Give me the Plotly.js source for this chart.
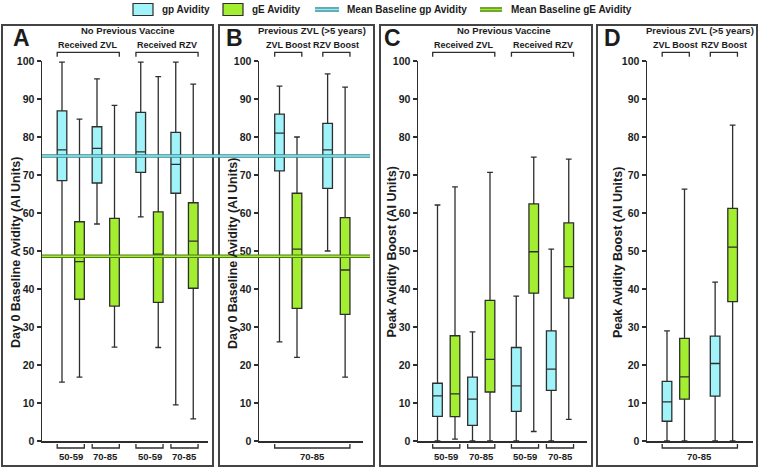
<!DOCTYPE html>
<html><head><meta charset="utf-8">
<script src="https://cdn.plot.ly/plotly-3.0.1.min.js"></script>
<style>html,body{margin:0;padding:0;background:#fff}#chart{width:760px;height:468px}</style>
</head><body><div id="chart"></div>
<script>
// ---------------- DATA ----------------
const seriesNames = ['gp Avidity', 'gE Avidity'];
const meanNames = ['Mean Baseline gp Avidity', 'Mean Baseline gE Avidity'];
const meanBaseline = [75.0, 48.6];               // gp, gE day-0 means

const yTitleBaseline = 'Day 0 Baseline Avidity (AI Units)';
const yTitleBoost = 'Peak Avidity Boost (AI Units)';
const titleNoPrev = 'No Previous Vaccine';
const titlePrevZVL = 'Previous ZVL (>5 years)';
const groupsNoPrev = ['Received ZVL', 'Received RZV'];
const groupsPrev = ['ZVL Boost', 'RZV Boost'];
const agesNoPrev = ['50-59', '70-85'];
const agePrev = '70-85';

// Panel A: order ZVL 50-59, ZVL 70-85, RZV 50-59, RZV 70-85
const aGpMin = [15.5, 57.1, 59.0, 9.5];
const aGpQ1  = [68.5, 67.9, 70.7, 65.2];
const aGpMed = [76.6, 77.0, 76.1, 72.8];
const aGpQ3  = [86.9, 82.7, 86.5, 81.2];
const aGpMax = [99.7, 95.3, 99.7, 99.7];
const aGeMin = [16.8, 24.7, 24.6, 5.8];
const aGeQ1  = [37.3, 35.5, 36.5, 40.2];
const aGeMed = [47.2, 48.8, 49.2, 52.6];
const aGeQ3  = [57.7, 58.6, 60.3, 62.7];
const aGeMax = [84.7, 88.3, 95.9, 93.9];

// Panel B: order ZVL Boost, RZV Boost (70-85)
const bGpMin = [26.1, 50.0];
const bGpQ1  = [71.1, 66.5];
const bGpMed = [81.0, 76.6];
const bGpQ3  = [86.0, 83.6];
const bGpMax = [93.4, 96.6];
const bGeMin = [22.0, 16.8];
const bGeQ1  = [34.9, 33.3];
const bGeMed = [50.5, 45.0];
const bGeQ3  = [65.2, 58.8];
const bGeMax = [80.0, 93.1];

// Panel C: order ZVL 50-59, ZVL 70-85, RZV 50-59, RZV 70-85
const cGpMin = [0, 0, 0, 0];
const cGpQ1  = [6.5, 4.1, 7.8, 13.3];
const cGpMed = [11.9, 11.0, 14.5, 18.9];
const cGpQ3  = [15.2, 16.8, 24.6, 29.0];
const cGpMax = [62.1, 28.7, 38.1, 50.5];
const cGeMin = [0.5, 0, 2.5, 5.7];
const cGeQ1  = [6.4, 12.9, 38.9, 37.6];
const cGeMed = [12.4, 21.5, 49.8, 45.9];
const cGeQ3  = [27.7, 37.0, 62.4, 57.4];
const cGeMax = [66.9, 70.7, 74.7, 74.2];

// Panel D: order ZVL Boost, RZV Boost (70-85)
const dGpMin = [0, 0];
const dGpQ1  = [5.2, 11.8];
const dGpMed = [10.3, 20.4];
const dGpQ3  = [15.7, 27.6];
const dGpMax = [29.0, 41.8];
const dGeMin = [0, 0];
const dGeQ1  = [11.0, 36.7];
const dGeMed = [16.9, 51.0];
const dGeQ3  = [27.0, 61.2];
const dGeMax = [66.3, 83.1];

// ---------------- STYLE / LAYOUT ----------------
const W = 760, H = 468;
const px = v => v / W, py = v => 1 - v / H;
const FONT = 'Liberation Sans, Arial, Helvetica, sans-serif';
const INK = '#1c1c1c';
const AXC = '#2e2e2e';
const FILLS = ['#9ff3f9', '#a3ee30'];
const MEAN_DARK = ['#3a8a90', '#4f7d12'];
const MEAN_LIGHT = ['#93eef3', '#a3ee30'];
const PPU = 17.5;      // px per category unit
const BOXW = 0.55;
const yTopPx = 61, yBotPx = 441;

function slots(nGroups, perGroup, gap) {
  const gp = [], gE = [];
  for (let g = 0; g < nGroups; g++)
    for (let a = 0; a < perGroup; a++) {
      const base = g * (perGroup * 2 + gap) + a * 2;
      gp.push(base); gE.push(base + 1);
    }
  return { gp, gE };
}

const panels = [
  { letter: 'A', xa: 'x', ya: 'y', axPx: [42, 208], firstPx: 62, box: [2, 213], letterX: 21, yTitleX: 15.5,
    title: titleNoPrev, groups: groupsNoPrev, per: 2, gap: 0.5, yTitle: yTitleBaseline,
    gp: [aGpMin, aGpQ1, aGpMed, aGpQ3, aGpMax], gE: [aGeMin, aGeQ1, aGeMed, aGeQ3, aGeMax] },
  { letter: 'B', xa: 'x2', ya: 'y2', axPx: [259, 363], firstPx: 279.5, box: [219, 374], letterX: 234, yTitleX: 232.5,
    title: titlePrevZVL, groups: groupsPrev, per: 1, gap: 0.75, yTitle: yTitleBaseline,
    gp: [bGpMin, bGpQ1, bGpMed, bGpQ3, bGpMax], gE: [bGeMin, bGeQ1, bGeMed, bGeQ3, bGeMax] },
  { letter: 'C', xa: 'x3', ya: 'y3', axPx: [418, 587], firstPx: 437.5, box: [380, 592], letterX: 392, yTitleX: 391,
    title: titleNoPrev, groups: groupsNoPrev, per: 2, gap: 0.5, yTitle: yTitleBoost,
    gp: [cGpMin, cGpQ1, cGpMed, cGpQ3, cGpMax], gE: [cGeMin, cGeQ1, cGeMed, cGeQ3, cGeMax] },
  { letter: 'D', xa: 'x4', ya: 'y4', axPx: [647, 753], firstPx: 667, box: [597, 757], letterX: 612, yTitleX: 617.5,
    title: titlePrevZVL, groups: groupsPrev, per: 1, gap: 0.75, yTitle: yTitleBoost,
    gp: [dGpMin, dGpQ1, dGpMed, dGpQ3, dGpMax], gE: [dGeMin, dGeQ1, dGeMed, dGeQ3, dGeMax] }
];

const traces = [], shapes = [], annotations = [];
const layout = {
  width: W, height: H, margin: { l: 0, r: 0, t: 0, b: 0 },
  paper_bgcolor: '#ffffff', plot_bgcolor: 'rgba(0,0,0,0)',
  showlegend: false, font: { family: FONT, color: INK, weight: 'bold' },
  hovermode: false
};

const txt = (text, x, y, size, xref, extra) => Object.assign({
  text, x, y, xref: xref || 'paper', yref: 'paper', showarrow: false,
  xanchor: 'center', yanchor: 'middle',
  font: { family: FONT, size, color: INK, weight: 'bold' }
}, extra || {});

panels.forEach((p, i) => {
  const sfx = i === 0 ? '' : String(i + 1);
  const off = (p.firstPx - p.axPx[0]) / PPU;
  const span = (p.axPx[1] - p.axPx[0]) / PPU;
  const pos = slots(2, p.per, p.gap);

  layout['xaxis' + sfx] = {
    domain: [px(p.axPx[0]), px(p.axPx[1])], range: [-off, span - off],
    anchor: p.ya, showline: true, linecolor: AXC, linewidth: 1.5,
    showticklabels: false, ticks: '', showgrid: false, zeroline: false, fixedrange: true
  };
  layout['yaxis' + sfx] = {
    domain: [py(yBotPx), py(yTopPx)], range: [0, 100], dtick: 10, tick0: 0,
    anchor: p.xa, showline: true, linecolor: AXC, linewidth: 1.5,
    ticks: 'outside', ticklen: 4, tickwidth: 1.5, tickcolor: AXC,
    tickfont: { family: FONT, size: 10.5, color: INK, weight: 'bold' },
    showgrid: false, zeroline: false, fixedrange: true, automargin: false
  };

  ['gp', 'gE'].forEach((k, j) => {
    const s = p[k];
    traces.push({
      type: 'box', name: seriesNames[j], xaxis: p.xa, yaxis: p.ya,
      x: pos[k], lowerfence: s[0], q1: s[1], median: s[2], q3: s[3], upperfence: s[4],
      width: BOXW, whiskerwidth: 0.6, fillcolor: FILLS[j],
      line: { color: AXC, width: 1.3 }, boxpoints: false, hoverinfo: 'skip', showlegend: false
    });
  });

  // panel frame
  shapes.push({ type: 'rect', xref: 'paper', yref: 'paper', x0: px(p.box[0]), x1: px(p.box[1]),
    y0: py(466), y1: py(25), line: { color: '#444', width: 2 }, fillcolor: 'rgba(0,0,0,0)', layer: 'below' });

  // letter
  annotations.push(txt(p.letter, px(p.letterX), py(37.5), 23));

  // y-axis title (rotated), placed like the reference
  annotations.push(txt(p.yTitle, px(p.yTitleX), py((yTopPx + yBotPx) / 2 + 1.5), 12.5, 'paper', { textangle: -90 }));

  // panel title
  const all = pos.gp.concat(pos.gE);
  const mid = (Math.min(...all) + Math.max(...all)) / 2;
  annotations.push(txt(p.title, mid, py(31), 9.5, p.xa));

  // top group brackets + labels
  const nPer = p.per * 2;
  p.groups.forEach((g, gi) => {
    const lo = gi * (nPer + p.gap) - BOXW / 2, hi = gi * (nPer + p.gap) + nPer - 1 + BOXW / 2;
    shapes.push({ type: 'path', xref: p.xa, yref: 'paper',
      path: `M${lo},${py(56.7)} L${lo},${py(52.3)} L${hi},${py(52.3)} L${hi},${py(56.7)}`,
      line: { color: AXC, width: 1.3 } });
    annotations.push(txt(g, (lo + hi) / 2, py(45.5), 9, p.xa));
  });

  // bottom age brackets + labels
  const brackets = [];
  if (p.per === 2) {
    p.groups.forEach((g, gi) => agesNoPrev.forEach((a, ai) => {
      const s0 = gi * (nPer + p.gap) + ai * 2;
      brackets.push([s0 - BOXW / 2, s0 + 1 + BOXW / 2, a]);
    }));
  } else {
    brackets.push([Math.min(...all) - BOXW / 2, Math.max(...all) + BOXW / 2, agePrev]);
  }
  brackets.forEach(([lo, hi, lab]) => {
    shapes.push({ type: 'path', xref: p.xa, yref: 'paper',
      path: `M${lo},${py(444)} L${lo},${py(448)} L${hi},${py(448)} L${hi},${py(444)}`,
      line: { color: AXC, width: 1.3 } });
    annotations.push(txt(lab, (lo + hi) / 2, py(456), 9.5, p.xa));
  });
});

// mean baseline lines across panels A and B (drawn on A's y scale)
meanBaseline.forEach((m, j) => {
  shapes.push({ type: 'line', xref: 'paper', yref: 'y', x0: px(42), x1: px(370), y0: m, y1: m,
    line: { color: MEAN_DARK[j], width: 3.6 }, layer: 'above' });
  shapes.push({ type: 'line', xref: 'paper', yref: 'y', x0: px(42), x1: px(370), y0: m, y1: m,
    line: { color: MEAN_LIGHT[j], width: 1.4 }, layer: 'above' });
});

// legend (drawn manually to match the reference)
const ly = 9.5;
[[133, 153], [223, 243]].forEach(([a, b], j) => {
  shapes.push({ type: 'rect', xref: 'paper', yref: 'paper', x0: px(a), x1: px(b), y0: py(ly + 6), y1: py(ly - 6),
    fillcolor: FILLS[j], line: { color: AXC, width: 1.2 } });
});
[[315, 339], [480, 502]].forEach(([a, b], j) => {
  shapes.push({ type: 'line', xref: 'paper', yref: 'paper', x0: px(a), x1: px(b), y0: py(ly), y1: py(ly),
    line: { color: MEAN_DARK[j], width: 4.5 } });
  shapes.push({ type: 'line', xref: 'paper', yref: 'paper', x0: px(a), x1: px(b), y0: py(ly), y1: py(ly),
    line: { color: MEAN_LIGHT[j], width: 1.8 } });
});
const legendText = seriesNames.concat(meanNames);
[160, 250, 345, 509].forEach((x, j) => {
  annotations.push(txt(legendText[j], px(x), py(ly), 10, 'paper', { xanchor: 'left' }));
});

layout.shapes = shapes;
layout.annotations = annotations;

Plotly.newPlot('chart', traces, layout, { staticPlot: true, displayModeBar: false });
</script>
</body></html>
